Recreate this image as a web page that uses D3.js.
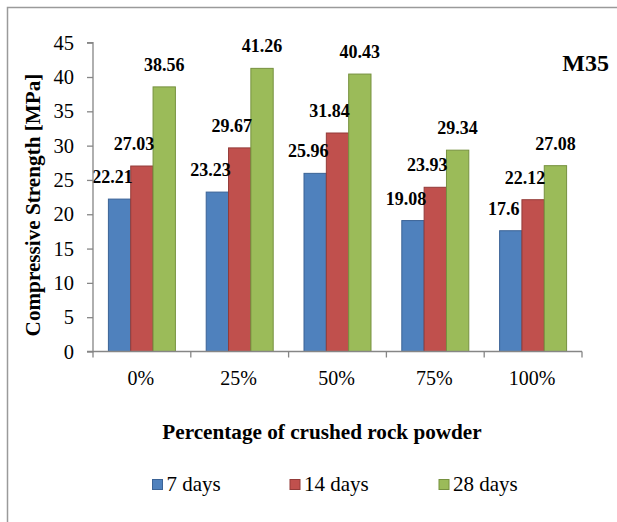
<!DOCTYPE html>
<html>
<head>
<meta charset="utf-8">
<script src="https://cdn.jsdelivr.net/npm/d3@7/dist/d3.min.js"></script>
<style>
  html, body { margin: 0; padding: 0; background: #fff; }
  svg { display: block; }
</style>
</head>
<body>
<svg id="chart" width="617" height="522"></svg>
<script>
// Compressive strength of M35 concrete by crushed rock powder content
const categories = ["0%", "25%", "50%", "75%", "100%"];
const seriesNames = ["7 days", "14 days", "28 days"];
const days7 = [22.21, 23.23, 25.96, 19.08, 17.6];
const days14 = [27.03, 29.67, 31.84, 23.93, 22.12];
const days28 = [38.56, 41.26, 40.43, 29.34, 27.08];
const yTicks = [0, 5, 10, 15, 20, 25, 30, 35, 40, 45];

const seriesValues = [days7, days14, days28];
const fills = ["#4F81BD", "#C0504D", "#9BBB59"];
const strokes = ["#3B6396", "#933B39", "#76913F"];
const labelShift = [-7, -8, 0];
const serif = "'Liberation Serif', 'Times New Roman', serif";

const svg = d3.select("#chart");

// outer frame
svg.append("rect")
  .attr("x", 7.5).attr("y", 7.5)
  .attr("width", 640).attr("height", 540)
  .attr("fill", "none")
  .attr("stroke", "#9a9a9a")
  .attr("stroke-width", 1.5);

const plotLeft = 93, plotRight = 582, plotTop = 42.7, plotBottom = 351.5;

const x = d3.scaleBand().domain(categories).range([plotLeft, plotRight]).paddingInner(0).paddingOuter(0);
const groupW = x.bandwidth() * 0.685;
const xs = d3.scaleBand().domain(d3.range(seriesNames.length))
  .range([(x.bandwidth() - groupW) / 2, (x.bandwidth() + groupW) / 2]);
const y = d3.scaleLinear().domain([0, 45]).range([plotBottom, plotTop]);

// bars
const groups = svg.append("g").selectAll("g")
  .data(categories)
  .join("g")
  .attr("transform", d => `translate(${x(d)},0)`);

groups.each(function(cat, ci) {
  const g = d3.select(this);
  seriesValues.forEach((vals, si) => {
    const v = vals[ci];
    g.append("rect")
      .attr("x", xs(si))
      .attr("y", y(v))
      .attr("width", xs.bandwidth())
      .attr("height", y(0) - y(v))
      .attr("fill", fills[si])
      .attr("stroke", strokes[si])
      .attr("stroke-width", 1);
  });
});

// value labels
groups.each(function(cat, ci) {
  const g = d3.select(this);
  seriesValues.forEach((vals, si) => {
    const v = vals[ci];
    g.append("text")
      .attr("x", xs(si) + xs.bandwidth() / 2 + labelShift[si])
      .attr("y", y(v) - 16)
      .attr("text-anchor", "middle")
      .style("font-family", serif)
      .style("font-size", "18px")
      .style("font-weight", "bold")
      .text(v);
  });
});

// y axis
const yAxis = d3.axisLeft(y).tickValues(yTicks).tickSize(6).tickPadding(13);
const gy = svg.append("g").attr("transform", `translate(${plotLeft},0)`).call(yAxis);
gy.selectAll("path, line").attr("stroke", "#868686").attr("stroke-width", 1.3);
gy.select(".domain").attr("d", `M-6,${plotBottom}H0V${plotTop}H-6`);
gy.selectAll("text")
  .style("font-family", serif)
  .style("font-size", "20.5px")
  .attr("fill", "#000");

// x axis with ticks at category boundaries
const gx = svg.append("g").attr("transform", `translate(0,${plotBottom})`);
gx.append("line").attr("x1", plotLeft).attr("x2", plotRight).attr("stroke", "#868686").attr("stroke-width", 1.3);
const bounds = categories.map(c => x(c)).concat([plotRight]);
gx.selectAll(".tk").data(bounds).join("line")
  .attr("class", "tk")
  .attr("x1", d => d).attr("x2", d => d)
  .attr("y1", 0).attr("y2", 6)
  .attr("stroke", "#868686").attr("stroke-width", 1.3);
gx.selectAll(".lb").data(categories).join("text")
  .attr("class", "lb")
  .attr("x", d => x(d) + x.bandwidth() / 2 - 1)
  .attr("y", 33)
  .attr("text-anchor", "middle")
  .style("font-family", serif)
  .style("font-size", "20px")
  .text(d => d);

// axis titles
svg.append("text")
  .attr("transform", "translate(40,205) rotate(-90)")
  .attr("text-anchor", "middle")
  .style("font-family", serif)
  .style("font-size", "21.2px")
  .style("font-weight", "bold")
  .text("Compressive Strength [MPa]");

svg.append("text")
  .attr("x", 322).attr("y", 439)
  .attr("text-anchor", "middle")
  .style("font-family", serif)
  .style("font-size", "21.2px")
  .style("font-weight", "bold")
  .text("Percentage of crushed rock powder");

// series tag
svg.append("text")
  .attr("x", 609).attr("y", 70.5)
  .attr("text-anchor", "end")
  .style("font-family", serif)
  .style("font-size", "24px")
  .style("font-weight", "bold")
  .text("M35");

// legend
const legendX = [152, 289.5, 438.5];
const lg = svg.append("g").selectAll("g").data(seriesNames).join("g")
  .attr("transform", (d, i) => `translate(${legendX[i]},479)`);
lg.append("rect")
  .attr("x", 0.5).attr("y", 0.5).attr("width", 10).attr("height", 10)
  .attr("fill", (d, i) => fills[i])
  .attr("stroke", (d, i) => strokes[i]);
lg.append("text")
  .attr("x", 14.5).attr("y", 12)
  .style("font-family", serif)
  .style("font-size", "21px")
  .text(d => d);
</script>
</body>
</html>
